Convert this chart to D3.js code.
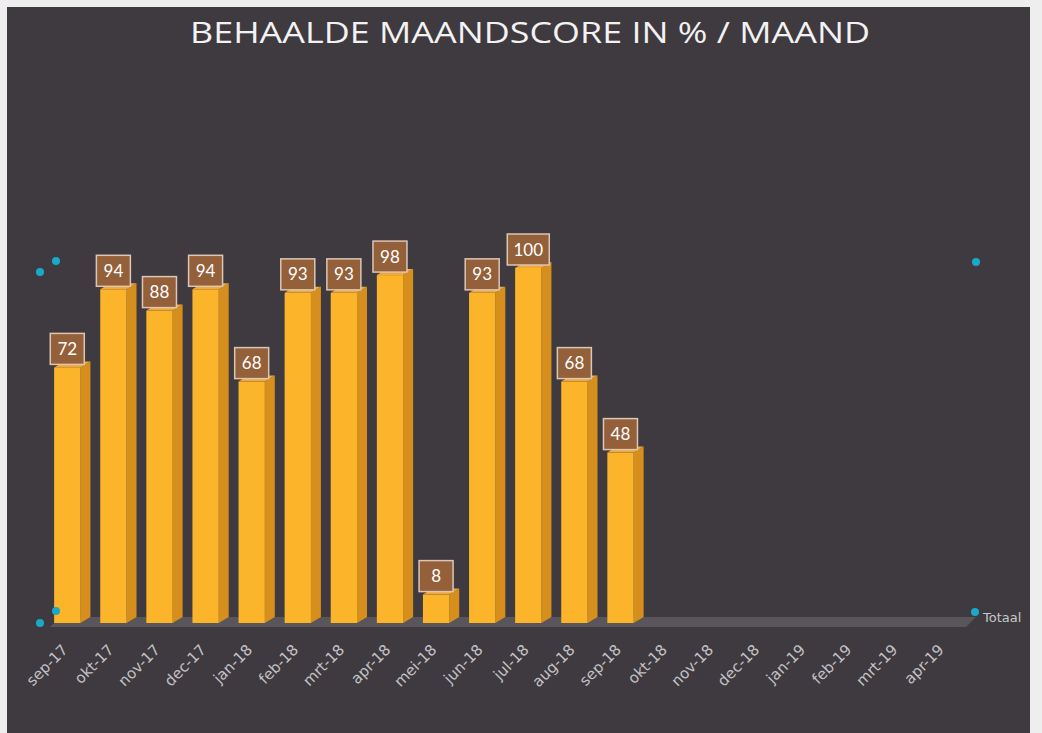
<!DOCTYPE html>
<html>
<head>
<meta charset="utf-8">
<script src="https://cdn.jsdelivr.net/npm/d3@7"></script>
<style>
  body { margin: 0; background: #eeeeee; }
  svg { display: block; }
</style>
</head>
<body>
<div id="chart-area"></div>
<script>
// data
const months = ["sep-17", "okt-17", "nov-17", "dec-17", "jan-18", "feb-18", "mrt-18", "apr-18",
  "mei-18", "jun-18", "jul-18", "aug-18", "sep-18", "okt-18", "nov-18", "dec-18",
  "jan-19", "feb-19", "mrt-19", "apr-19"];
const scores = [72, 94, 88, 94, 68, 93, 93, 98, 8, 93, 100, 68, 48,
  null, null, null, null, null, null, null];
const title = "BEHAALDE MAANDSCORE IN % / MAAND";
const seriesName = "Totaal";

const W = 1042, H = 733;
const depth = { dx: 10, dy: 6 };

const svg = d3.select("#chart-area").append("svg")
    .attr("width", W)
    .attr("height", H);

// dark chart background
svg.append("rect")
    .attr("x", 7).attr("y", 7)
    .attr("width", 1023).attr("height", H - 7)
    .attr("fill", "#3e3a3f");

// Title
svg.append("text")
    .attr("x", 530)
    .attr("y", 43)
    .attr("text-anchor", "middle")
    .attr("font-family", "'Open Sans', Lato, sans-serif")
    .attr("font-size", "29px")
    .attr("textLength", 680)
    .attr("lengthAdjust", "spacingAndGlyphs")
    .attr("fill", "#f2f2f2")
    .text(title);

const x = d3.scaleBand()
    .domain(months)
    .range([44, 966]);

const y = d3.scaleLinear()
    .domain([0, 100])
    .range([623, 268]);

const step = x.bandwidth();
const barW = step * 0.57;
const barOff = step * 0.22;

// floor of the 3d plot
const y0 = y(0);
svg.append("path")
    .attr("d", `M${x.range()[0] + 6},${y0 + 4} L${x.range()[1]},${y0 + 4} L${x.range()[1] + depth.dx},${y0 - depth.dy} L${x.range()[0] + 6 + depth.dx},${y0 - depth.dy} Z`)
    .attr("fill", "#58555b");

const data = months.map((m, i) => ({ month: m, value: scores[i] }))
    .filter(d => d.value !== null);

const bars = svg.append("g").selectAll("g")
    .data(data)
    .join("g");

// side face
bars.append("path")
    .attr("d", d => {
        const x1 = x(d.month) + barOff + barW, yt = y(d.value);
        return `M${x1},${y0} L${x1},${yt} L${x1 + depth.dx},${yt - depth.dy} L${x1 + depth.dx},${y0 - depth.dy} Z`;
    })
    .attr("fill", "#d68f1c");

// top face
bars.append("path")
    .attr("d", d => {
        const x0 = x(d.month) + barOff, yt = y(d.value);
        return `M${x0},${yt} L${x0 + barW},${yt} L${x0 + barW + depth.dx},${yt - depth.dy} L${x0 + depth.dx},${yt - depth.dy} Z`;
    })
    .attr("fill", "#eea93a");

// front face
bars.append("rect")
    .attr("x", d => x(d.month) + barOff)
    .attr("y", d => y(d.value))
    .attr("width", barW)
    .attr("height", d => y0 - y(d.value))
    .attr("fill", "#fcb52a");

// data labels
const labels = bars.append("g")
    .attr("transform", d => `translate(${x(d.month) + barOff + barW / 2},${y(d.value) - 18})`);

labels.append("rect")
    .attr("x", d => d.value >= 100 ? -21 : -17)
    .attr("y", -16)
    .attr("width", d => d.value >= 100 ? 42 : 34)
    .attr("height", 31)
    .attr("fill", "#94603a")
    .attr("stroke", "#dcc6b6")
    .attr("stroke-width", 1.5);

labels.append("text")
    .attr("text-anchor", "middle")
    .attr("dy", "0.33em")
    .attr("font-family", "Lato, 'Open Sans', sans-serif")
    .attr("font-size", "17px")
    .attr("fill", "#ffffff")
    .text(d => d.value);

// x axis labels
const xAxis = d3.axisBottom(x).tickSize(0).tickPadding(0);
const gx = svg.append("g")
    .attr("transform", `translate(-2,${y0 + 24})`)
    .call(xAxis);
gx.select(".domain").remove();
gx.selectAll("text")
    .attr("font-family", "'DejaVu Sans', sans-serif")
    .attr("font-size", "15px")
    .attr("fill", "#c4c2c6")
    .attr("text-anchor", "end")
    .attr("dy", "0.35em")
    .attr("transform", "rotate(-45)");

// series label at the right end
svg.append("text")
    .attr("x", 983)
    .attr("y", y0 - 1)
    .attr("font-family", "'DejaVu Sans', sans-serif")
    .attr("font-size", "13px")
    .attr("fill", "#c8c6ca")
    .text(seriesName);

// selection handles (cyan dots) from the screenshot
const handles = [[40, 272], [56, 261], [40, 623], [56, 611], [976, 262], [975, 612]];
svg.append("g").selectAll("circle")
    .data(handles)
    .join("circle")
    .attr("cx", d => d[0])
    .attr("cy", d => d[1])
    .attr("r", 4)
    .attr("fill", "#19a9c9");
</script>
</body>
</html>
